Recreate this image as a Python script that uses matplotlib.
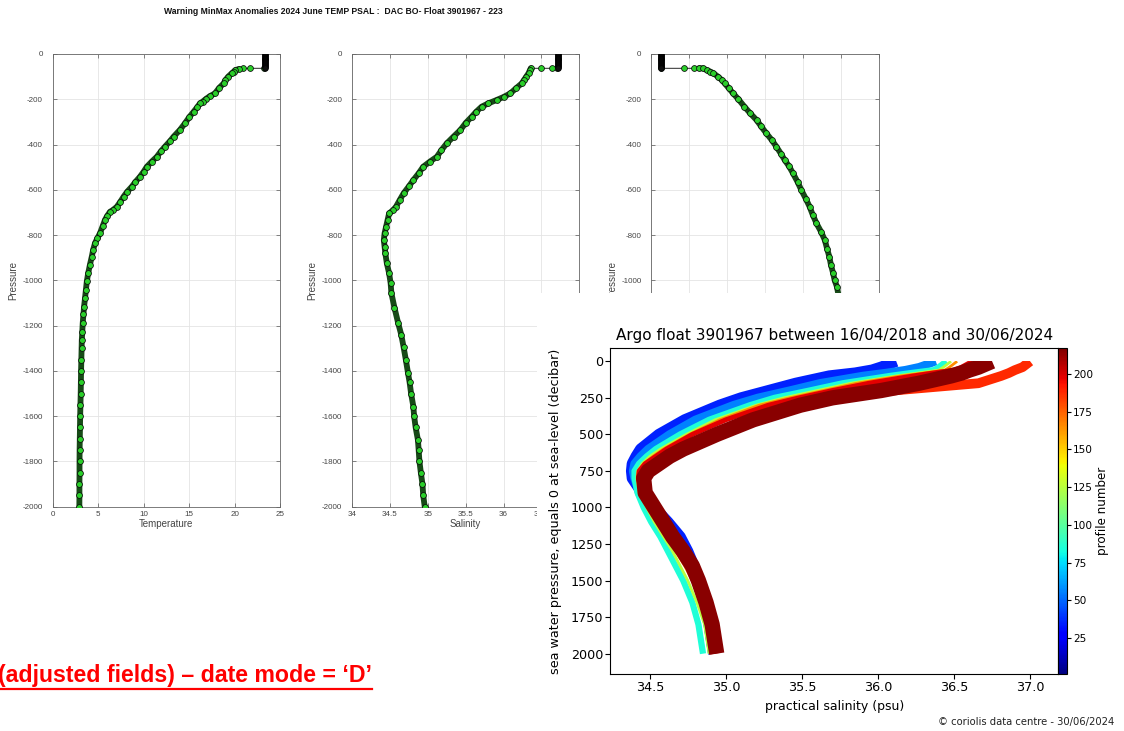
import matplotlib
matplotlib.use("Agg")
import matplotlib.pyplot as plt
import matplotlib as mpl
from matplotlib.lines import Line2D
from matplotlib.patches import Rectangle

# ---- top panels: last profile (223) ----
mld_pres = [0, -4, -8, -12, -16, -20, -24, -28, -32, -36, -40, -44, -48, -52, -56, -60]
temp_mld = 23.3
sal_mld = 36.72
dens_mld = 24.63

temp_pres = [-63, -63, -63, -66, -71, -78, -85, -100, -115, -130, -150, -174, -186, -197, -210, -218,
             -235, -255, -280, -306, -335, -365, -385, -409, -430, -454, -475, -498, -520, -542, -565,
             -586, -608, -630, -655, -675, -690, -697, -715, -733, -760, -792, -815, -836, -865, -895,
             -930, -969, -1005, -1043, -1080, -1116, -1150, -1190, -1230, -1264, -1300, -1350, -1400,
             -1450, -1500, -1550, -1600, -1650, -1700, -1750, -1800, -1850, -1900, -1950, -2000]
temp_vals = [23.2, 21.7, 20.9, 20.5, 20.1, 19.9, 19.7, 19.3, 19.0, 18.8, 18.3, 17.85, 17.3, 16.9, 16.5, 16.2,
             15.9, 15.5, 15.0, 14.55, 14.0, 13.3, 12.9, 12.35, 11.9, 11.45, 10.9, 10.35, 10.0, 9.6, 9.1,
             8.7, 8.2, 7.8, 7.4, 7.05, 6.6, 6.3, 6.0, 5.75, 5.5, 5.2, 4.9, 4.65, 4.45, 4.3,
             4.1, 3.9, 3.75, 3.65, 3.55, 3.45, 3.38, 3.3, 3.25, 3.2, 3.18, 3.15, 3.12,
             3.1, 3.08, 3.05, 3.02, 3.0, 2.98, 2.96, 2.95, 2.95, 2.94, 2.94, 2.93]

sal_pres = [-63, -63, -63, -63, -70, -85, -100, -115, -130, -150, -174, -190, -203, -218, -233, -255,
            -277, -305, -336, -365, -395, -425, -454, -475, -498, -527, -557, -585, -616, -645, -675,
            -690, -704, -733, -763, -792, -822, -851, -881, -925, -969, -1013, -1057, -1120, -1190,
            -1240, -1293, -1350, -1411, -1450, -1500, -1558, -1600, -1650, -1705, -1750, -1800, -1853,
            -1900, -1950, -2000]
sal_vals = [36.70, 36.64, 36.49, 36.36, 36.35, 36.33, 36.30, 36.27, 36.24, 36.17, 36.09, 36.00, 35.91, 35.80, 35.71, 35.64,
            35.58, 35.50, 35.43, 35.34, 35.25, 35.18, 35.12, 35.03, 34.94, 34.88, 34.81, 34.75, 34.68, 34.63, 34.58,
            34.54, 34.49, 34.47, 34.45, 34.43, 34.42, 34.43, 34.44, 34.46, 34.49, 34.51, 34.52, 34.56, 34.61,
            34.65, 34.68, 34.71, 34.74, 34.76, 34.78, 34.81, 34.82, 34.84, 34.87, 34.88, 34.89, 34.91,
            34.93, 34.94, 34.96]

dens_pres = [-63, -63, -63, -63, -63, -71, -78, -85, -100, -115, -130, -150, -174, -200, -233, -260,
             -292, -320, -351, -380, -409, -440, -468, -497, -527, -565, -601, -640, -675, -710, -748,
             -785, -822, -860, -896, -930, -969, -1000, -1028, -1100, -1200, -1400, -1600, -1800, -2000]
dens_vals = [24.63, 24.93, 25.06, 25.13, 25.18, 25.23, 25.28, 25.32, 25.38, 25.43, 25.47, 25.52, 25.58, 25.65, 25.73, 25.80,
             25.89, 25.95, 26.02, 26.09, 26.15, 26.21, 26.26, 26.32, 26.37, 26.43, 26.48, 26.54, 26.59, 26.63, 26.68,
             26.74, 26.79, 26.82, 26.85, 26.87, 26.90, 26.92, 26.95, 26.99, 27.04, 27.12, 27.18, 27.22, 27.25]

# ---- inset: salinity profiles of the float, grouped by profile number ----
inset_pres = [0, 40, 60, 80, 100, 150, 200, 250, 300, 400, 500, 600, 650, 700, 750, 800, 900, 1000,
              1100, 1200, 1300, 1400, 1500, 1650, 1800, 2000]
sal_p035 = [36.12, 36.02, 35.96, 35.85, 35.68, 35.46, 35.28, 35.10, 34.96, 34.73, 34.56, 34.44, 34.41, 34.385, 34.38,
            34.385, 34.45, 34.53, 34.62, 34.70, 34.75, 34.79, 34.82, 34.86, 34.89, 34.92]
sal_p055 = [36.38, 36.27, 36.18, 36.05, 35.90, 35.62, 35.42, 35.21, 35.05, 34.80, 34.63, 34.49, 34.44, 34.40, 34.39,
            34.40, 34.43, 34.49, 34.56, 34.63, 34.70, 34.76, 34.80, 34.85, 34.88, 34.91]
sal_p085 = [36.45, 36.40, 36.37, 36.22, 36.08, 35.77, 35.55, 35.32, 35.16, 34.89, 34.70, 34.54, 34.48, 34.43, 34.40,
            34.40, 34.42, 34.46, 34.51, 34.57, 34.62, 34.67, 34.72, 34.78, 34.82, 34.85]
sal_p125 = [36.48, 36.43, 36.40, 36.26, 36.12, 35.82, 35.60, 35.38, 35.20, 34.93, 34.74, 34.57, 34.50, 34.45, 34.42,
            34.415, 34.43, 34.48, 34.53, 34.59, 34.65, 34.70, 34.75, 34.81, 34.86, 34.89]
sal_p165 = [36.52, 36.47, 36.44, 36.30, 36.15, 35.86, 35.64, 35.42, 35.22, 34.96, 34.76, 34.59, 34.52, 34.46, 34.43,
            34.42, 34.44, 34.49, 34.55, 34.61, 34.67, 34.73, 34.78, 34.83, 34.88, 34.91]
sal_p188 = [37.00, 36.95, 36.90, 36.86, 36.81, 36.66, 36.10, 35.74, 35.52, 35.20, 34.96, 34.74, 34.65, 34.57, 34.50,
            34.47, 34.47, 34.52, 34.58, 34.64, 34.71, 34.77, 34.81, 34.86, 34.90, 34.93]
sal_p198 = [36.62, 36.55, 36.50, 36.36, 36.23, 35.94, 35.70, 35.48, 35.28, 35.00, 34.78, 34.61, 34.54, 34.47, 34.43,
            34.425, 34.45, 34.50, 34.56, 34.62, 34.69, 34.75, 34.80, 34.85, 34.89, 34.92]
sal_p215 = [36.75, 36.66, 36.60, 36.55, 36.48, 36.27, 36.02, 35.70, 35.49, 35.18, 34.94, 34.72, 34.63, 34.56, 34.49,
            34.46, 34.47, 34.53, 34.59, 34.65, 34.72, 34.78, 34.82, 34.87, 34.91, 34.94]
profile_numbers = [35, 55, 85, 125, 165, 188, 198, 215]
inset_widths = [8, 6, 4.5, 2, 2, 7, 3.5, 11]

W, H = 1124, 731
fig = plt.figure(figsize=(W / 100, H / 100), dpi=100)


def px_axes(x0, y0, x1, y1):
    return fig.add_axes([x0 / W, 1 - y1 / H, (x1 - x0) / W, (y1 - y0) / H])


narrow = ['Liberation Sans Narrow', 'Liberation Sans', 'DejaVu Sans']
helv = ['Liberation Sans', 'DejaVu Sans']


def profile_panel(ax, pres, vals, surf, xlim, xticks, xticklabels, xlabel):
    ax.plot([surf] * len(mld_pres) + vals, mld_pres + pres, color='black', lw=0.6, zorder=2)
    ax.plot(vals[3:], pres[3:], color='#174a17', lw=4.2, zorder=2, solid_capstyle='round')
    ax.plot(vals, pres, ls='none', marker='o', ms=4.2, mfc='#2acf2a', mec='#0b0b0b', mew=0.55, zorder=3)
    ax.plot([surf] * len(mld_pres), mld_pres, ls='none', marker='o', ms=4.0, mfc='#101010', mec='black',
            mew=0.6, zorder=3)
    ax.set_xlim(*xlim)
    ax.set_ylim(-2000, 0)
    ax.set_xticks(xticks)
    ax.set_xticklabels(xticklabels, family=helv)
    ax.set_yticks(range(-2000, 1, 200))
    ax.set_yticklabels([str(v) for v in range(-2000, 1, 200)], family=helv)
    ax.tick_params(direction='in', top=True, right=True, length=3, width=0.5, labelsize=5.8,
                   labelcolor='#444444', color='#555555')
    ax.tick_params(axis='y', pad=7)
    ax.tick_params(axis='x', pad=3)
    ax.grid(True, color='#e4e4e4', lw=0.6)
    ax.set_axisbelow(True)
    for s in ax.spines.values():
        s.set_color('#666666')
        s.set_linewidth(0.6)
    ax.set_xlabel(xlabel, fontsize=7, family=helv, color='#444444', labelpad=1)
    ax.set_ylabel('Pressure', fontsize=7, family=helv, color='#444444', labelpad=3)


ax1 = px_axes(52.7, 54, 280, 506.7)
profile_panel(ax1, temp_pres, temp_vals, temp_mld, (0, 25), [0, 5, 10, 15, 20, 25],
              ['0', '5', '10', '15', '20', '25'], 'Temperature')
ax2 = px_axes(352, 54, 579.3, 506.7)
profile_panel(ax2, sal_pres, sal_vals, sal_mld, (34, 37), [34, 34.5, 35, 35.5, 36, 36.5, 37],
              ['34', '34.5', '35', '35.5', '36', '36.5', '37'], 'Salinity')
ax3 = px_axes(651.3, 54, 878.6, 506.7)
profile_panel(ax3, dens_pres, dens_vals, dens_mld, (24.5, 27.5), [24.5, 25, 25.5, 26, 26.5, 27, 27.5],
              ['24.5', '25', '25.5', '26', '26.5', '27', '27.5'], 'Density')

fig.text(333 / W, 1 - 12 / H, 'Warning MinMax Anomalies 2024 June TEMP PSAL :  DAC BO- Float 3901967 - 223',
         ha='center', va='center', fontsize=6.2, weight='bold', family=narrow, color='#111111')

# ---- inset picture (white block) ----
bg = px_axes(537, 293, W, H)
bg.set_xticks([])
bg.set_yticks([])
for s in bg.spines.values():
    s.set_visible(False)
bg.set_zorder(5)
bg.text(1114 / W, 1 - 722 / H, '\u00a9 coriolis data centre - 30/06/2024', transform=fig.transFigure,
        ha='right', va='center', fontsize=7.2, color='#222222')

ax = px_axes(610.2, 348.3, 1058.3, 674.3)
ax.set_zorder(6)
cmap = plt.get_cmap('jet')
norm = mpl.colors.Normalize(vmin=1, vmax=217)
clip = Rectangle((34.0, 0), 4.0, 2030, transform=ax.transData)
profiles = [sal_p035, sal_p055, sal_p085, sal_p125, sal_p165, sal_p188, sal_p198, sal_p215]
for num, sal, lw in zip(profile_numbers, profiles, inset_widths):
    ln, = ax.plot(sal, inset_pres, color=cmap(norm(num)), lw=lw, solid_capstyle='butt',
                  solid_joinstyle='round')
    ln.set_clip_path(clip)
ax.set_xlim(34.24, 37.185)
ax.set_ylim(2141, -89)
ax.set_xticks([34.5, 35.0, 35.5, 36.0, 36.5, 37.0])
ax.set_xticklabels(['34.5', '35.0', '35.5', '36.0', '36.5', '37.0'])
ax.set_yticks([0, 250, 500, 750, 1000, 1250, 1500, 1750, 2000])
ax.tick_params(labelsize=9.2, length=3.5, width=0.8, pad=1.5)
ax.set_title('Argo float 3901967 between 16/04/2018 and 30/06/2024', fontsize=11)
ax.set_xlabel('practical salinity (psu)', fontsize=9, labelpad=4)
ax.set_ylabel('sea water pressure, equals 0 at sea-level (decibar)', fontsize=9.2, labelpad=6)

cax = px_axes(1058.3, 348.3, 1066.5, 674.3)
cax.set_zorder(6)
sm = mpl.cm.ScalarMappable(norm=norm, cmap=cmap)
cb = fig.colorbar(sm, cax=cax, ticks=[25, 50, 75, 100, 125, 150, 175, 200])
cb.outline.set_linewidth(0.8)
cax.tick_params(labelsize=7.6, length=3, width=0.8, pad=1.5)
cax.set_ylabel('profile number', fontsize=8.6, labelpad=2)

# ---- red note at the bottom left ----
note = fig.text(-2 / W, 1 - 681.7 / H, '(adjusted fields) \u2013 date mode = \u2018D\u2019', ha='left',
                va='baseline', fontsize=16.7, weight='bold', color='#ff0000', family=narrow)
fig.canvas.draw()
bb = note.get_window_extent()
uy = 1 - 689 / H
fig.add_artist(Line2D([0, bb.x1 / W], [uy, uy], transform=fig.transFigure, color='#ff0000', lw=1.6))

fig.savefig('out.png', dpi=100)
